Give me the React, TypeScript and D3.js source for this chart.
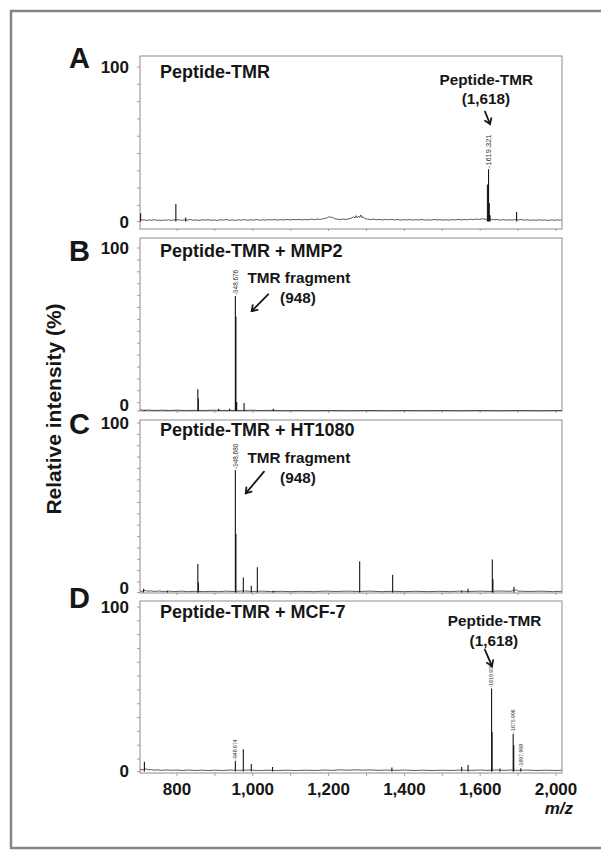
import React from 'react';
import * as d3 from 'd3';

const W = 601;
const H = 850;

// ---------- data ----------
const mzDomain: [number, number] = [702.4, 1815.8];
const xTickValues = [800, 1000, 1200, 1400, 1600, 1800];
const xTickLabels = ['800', '1,000', '1,200', '1,400', '1,600', '2,000'];
const xMinorTicks = [800, 900, 1000, 1100, 1200, 1300, 1400, 1500, 1600, 1700, 1800];

const panelLetters = ['A', 'B', 'C', 'D'];
const panelTitles = ['Peptide-TMR', 'Peptide-TMR + MMP2', 'Peptide-TMR + HT1080', 'Peptide-TMR + MCF-7'];
const yTickLabels = ['0', '100'];
const yMinorStep = [11.2, 7.3, 6.7, 8.4];

// peaks: [m/z, relative intensity %]
const peaksA: [number, number][] = [
  [704, 5.4], [797, 11.3], [823, 2.6], [1619, 24], [1622, 33.8], [1624, 12], [1626, 4], [1696, 6.1],
];
const peaksB: [number, number][] = [
  [714, 0.6], [855, 13.3], [856.5, 7.6], [910, 1.4], [939, 1.4], [954, 70.5], [955.5, 57.8],
  [957.5, 5.5], [977, 4.9], [1054, 1.4],
];
const peaksC: [number, number][] = [
  [712, 2.2], [775, 1.0], [855, 16.8], [856.5, 5.9], [954, 72.3], [955.5, 34.7], [975, 8.9],
  [996, 4.0], [1012, 14.9], [1054, 1.0], [1282, 18.4], [1369, 10.5], [1551, 1.2], [1568, 2.2],
  [1632, 19.4], [1633.5, 7.9], [1689, 3.4],
];
const peaksD: [number, number][] = [
  [714, 5.9], [954, 6.5], [975, 13.6], [996, 4.5], [1052, 2.8], [1367, 2.4], [1551, 2.8],
  [1568, 3.9], [1630, 50.5], [1631.5, 24], [1652, 1.8], [1687, 23], [1688.5, 16], [1707, 2],
];

// baseline noise: [m/z, %]
const noiseA: [number, number][] = [
  [703, 1.5], [708, 0.9], [714, 1.1], [720, 0.7], [727, 1.0], [733, 0.8], [740, 1.2], [746, 0.7],
  [752, 0.9], [759, 0.6], [765, 1.0], [772, 0.8], [778, 1.1], [785, 0.7], [792, 1.0], [802, 1.2],
  [810, 0.8], [817, 1.0], [828, 0.9], [835, 1.3], [842, 0.8], [850, 1.0], [858, 0.7], [866, 1.1],
  [874, 0.9], [882, 1.2], [890, 0.8], [898, 1.0], [906, 0.7], [914, 1.1], [922, 0.9], [930, 1.3],
  [938, 0.8], [946, 1.0], [954, 0.7], [962, 1.1], [970, 0.9], [978, 1.2], [986, 0.8], [994, 1.1],
  [1002, 0.9], [1010, 1.3], [1018, 0.8], [1026, 1.1], [1034, 0.9], [1042, 1.2], [1050, 1.0],
  [1058, 1.3], [1066, 0.9], [1074, 1.2], [1082, 1.0], [1090, 1.4], [1098, 1.0], [1106, 1.3],
  [1114, 1.1], [1122, 1.4], [1130, 1.0], [1138, 1.3], [1146, 1.1], [1154, 1.5], [1162, 1.2],
  [1170, 1.6], [1178, 1.3], [1186, 1.8], [1192, 2.0], [1198, 2.6], [1202, 3.2], [1206, 2.5],
  [1210, 2.8], [1216, 1.8], [1222, 1.5], [1230, 1.3], [1238, 1.6], [1246, 1.3], [1254, 1.8],
  [1260, 2.2], [1266, 3.0], [1269, 2.2], [1272, 3.8], [1275, 2.4], [1279, 3.5], [1282, 2.6],
  [1285, 4.2], [1288, 2.5], [1292, 3.0], [1296, 1.8], [1302, 1.6], [1310, 1.3], [1318, 1.5],
  [1326, 1.1], [1334, 1.4], [1342, 1.0], [1350, 1.3], [1358, 1.1], [1366, 1.4], [1374, 1.0],
  [1382, 1.3], [1390, 0.9], [1398, 1.2], [1406, 1.0], [1414, 1.3], [1422, 0.9], [1430, 1.2],
  [1438, 1.0], [1446, 1.3], [1454, 0.9], [1462, 1.1], [1470, 0.9], [1478, 1.3], [1486, 1.0],
  [1494, 1.2], [1502, 0.9], [1510, 1.1], [1518, 0.9], [1526, 1.2], [1534, 1.0], [1542, 1.4],
  [1550, 1.0], [1558, 1.3], [1566, 1.1], [1574, 1.5], [1582, 1.2], [1590, 1.6], [1598, 1.3],
  [1606, 1.8], [1612, 1.5], [1630, 1.4], [1636, 1.1], [1644, 1.3], [1652, 0.9], [1660, 1.2],
  [1668, 0.9], [1676, 1.1], [1684, 0.9], [1690, 1.2], [1702, 1.0], [1708, 1.3], [1716, 0.9],
  [1724, 1.1], [1732, 0.8], [1740, 1.0], [1748, 0.8], [1756, 1.1], [1764, 0.8], [1772, 1.0],
  [1780, 0.7], [1788, 1.0], [1796, 0.8], [1804, 1.1], [1812, 0.7], [1815, 1.4],
];
const noiseB: [number, number][] = [
  [703, 0.9], [710, 0.4], [725, 0.6], [740, 0.3], [760, 0.5], [780, 0.3], [800, 0.5], [820, 0.3],
  [845, 0.4], [870, 0.3], [895, 0.5], [920, 0.3], [945, 0.4], [970, 0.3], [995, 0.5], [1020, 0.3],
  [1050, 0.4], [1080, 0.2], [1120, 0.3], [1160, 0.2], [1200, 0.3], [1250, 0.2], [1300, 0.3],
  [1350, 0.2], [1400, 0.3], [1450, 0.2], [1500, 0.3], [1550, 0.2], [1600, 0.3], [1650, 0.2],
  [1700, 0.3], [1750, 0.2], [1815, 0.3],
];
const noiseC: [number, number][] = [
  [703, 1.0], [708, 0.6], [716, 1.3], [722, 0.7], [730, 1.0], [740, 0.6], [752, 0.9], [764, 0.6],
  [780, 0.8], [795, 0.5], [812, 0.8], [830, 0.5], [848, 0.7], [870, 0.5], [890, 0.7], [910, 0.5],
  [930, 0.8], [950, 0.6], [975, 0.9], [1000, 0.6], [1025, 0.8], [1050, 0.5], [1075, 0.7],
  [1100, 0.5], [1130, 0.7], [1160, 0.5], [1190, 0.8], [1220, 0.6], [1250, 0.8], [1280, 0.6],
  [1310, 0.8], [1340, 0.5], [1370, 0.7], [1400, 0.5], [1430, 0.7], [1460, 0.5], [1490, 0.7],
  [1520, 0.5], [1545, 0.8], [1575, 0.6], [1600, 0.8], [1625, 0.6], [1650, 0.9], [1680, 0.7],
  [1694, 1.6], [1700, 0.8], [1730, 0.6], [1760, 0.8], [1790, 0.5], [1815, 0.7],
];
const noiseD: [number, number][] = [
  [703, 1.4], [708, 0.9], [718, 1.6], [724, 1.0], [732, 1.2], [740, 0.8], [750, 1.0], [760, 0.7],
  [772, 1.0], [785, 0.7], [800, 0.9], [815, 0.6], [830, 0.9], [848, 0.6], [865, 0.8], [882, 0.6],
  [900, 0.8], [920, 0.6], [940, 0.9], [965, 0.7], [990, 0.9], [1015, 0.6], [1040, 0.8],
  [1065, 0.6], [1090, 0.8], [1115, 0.6], [1140, 0.8], [1165, 0.6], [1190, 0.9], [1210, 0.7],
  [1230, 1.0], [1250, 0.8], [1270, 1.0], [1290, 0.8], [1310, 1.0], [1330, 0.7], [1350, 0.9],
  [1375, 0.7], [1400, 0.9], [1425, 0.6], [1450, 0.8], [1475, 0.6], [1500, 0.8], [1525, 0.6],
  [1545, 0.9], [1575, 0.7], [1600, 0.9], [1615, 0.7], [1645, 0.9], [1665, 0.7], [1680, 0.9],
  [1700, 0.7], [1725, 0.9], [1750, 0.6], [1775, 0.8], [1800, 0.6], [1815, 0.8],
];

// labelled peaks: [panel, m/z, %, text]
const peakLabels: [number, number, number, string][] = [
  [0, 1622, 33.8, '-1619.321'],
  [1, 954, 70.5, '-948.676'],
  [2, 954, 72.3, '-948.680'],
  [3, 954, 6.5, '-948.674'],
  [3, 1630, 50.5, '-1619.936'],
  [3, 1687, 23, '-1675.996'],
  [3, 1707, 2, '-1697.998'],
];

// annotations: text lines [panel, m/z, %, text, anchor]
const annoTexts: [number, number, number, string, string][] = [
  [0, 1616, 88.3, 'Peptide-TMR', 'middle'],
  [0, 1615, 76, '(1,618)', 'middle'],
  [1, 986, 78.3, 'TMR fragment', 'start'],
  [1, 1119, 66.1, '(948)', 'middle'],
  [2, 986, 76.6, 'TMR fragment', 'start'],
  [2, 1119, 64.4, '(948)', 'middle'],
  [3, 1638, 88.6, 'Peptide-TMR', 'middle'],
  [3, 1636, 76.5, '(1,618)', 'middle'],
];
// arrows: [panel, tail m/z, tail %, head m/z, head %]
const annoArrows: [number, number, number, number, number][] = [
  [0, 1612.7, 71.1, 1625.9, 63.1],
  [1, 1040.6, 71.6, 997.1, 61.3],
  [2, 1029.5, 71.3, 981.5, 58.5],
  [3, 1612.6, 73.9, 1631, 64.1],
];

const peakSets = [peaksA, peaksB, peaksC, peaksD];
const noiseSets = [noiseA, noiseB, noiseC, noiseD];

// ---------- layout ----------
const plotLeft = 140;
const plotRight = 562;
const panelLayout = [
  { top: 56, bottom: 229, y0: 221.5, y100: 67, zeroY: 222, hundredY: 67.5, letterY: 68, titleY: 78, labelFs: 7.5 },
  { top: 238, bottom: 411, y0: 411, y100: 248, zeroY: 405, hundredY: 248, letterY: 261, titleY: 257, labelFs: 6.4 },
  { top: 420, bottom: 593, y0: 592.5, y100: 423, zeroY: 588, hundredY: 423, letterY: 434, titleY: 436, labelFs: 6.4 },
  { top: 601, bottom: 773, y0: 771.5, y100: 607, zeroY: 771, hundredY: 607, letterY: 608, titleY: 618, labelFs: 5.2 },
];

const FONT = "'Liberation Sans', Arial, Helvetica, sans-serif";
const INK = '#161616';

const x = d3.scaleLinear().domain(mzDomain).range([plotLeft, plotRight]);

function Panel({ i }: { i: number }) {
  const L = panelLayout[i];
  const y = d3.scaleLinear().domain([0, 100]).range([L.y0, L.y100]);
  const line = d3
    .line<[number, number]>()
    .x((d) => x(d[0]))
    .y((d) => y(d[1]));
  const peaks = peakSets[i];
  const stickPath = peaks.map((p) => `M${x(p[0])},${y(0)}V${y(p[1])}`).join('');
  const yTicks: number[] = [];
  for (let v = 100; v > 0.5; v -= yMinorStep[i]) yTicks.push(v);
  yTicks.push(0);
  const isLast = i === 3;
  return (
    <g>
      <rect
        x={plotLeft}
        y={L.top}
        width={plotRight - plotLeft}
        height={L.bottom - L.top}
        fill="#fff"
        stroke="#8c8c8c"
        strokeWidth={1}
      />
      {yTicks.map((v, k) => (
        <line key={k} x1={plotLeft - 3} x2={plotLeft} y1={y(v)} y2={y(v)} stroke="#8c8c8c" strokeWidth={0.8} />
      ))}
      {xMinorTicks.map((v) => (
        <line
          key={v}
          x1={x(v)}
          x2={x(v)}
          y1={L.bottom}
          y2={L.bottom + (isLast ? 3 : 2)}
          stroke="#8c8c8c"
          strokeWidth={0.8}
        />
      ))}
      <path d={line(noiseSets[i]) || ''} fill="none" stroke={INK} strokeWidth={0.7} />
      <path d={stickPath} fill="none" stroke={INK} strokeWidth={1.1} />
      {/* axis labels */}
      <text x={129} y={L.zeroY} textAnchor="end" dominantBaseline="central" fontFamily={FONT} fontWeight="bold" fontSize={17} fill={INK}>
        {yTickLabels[0]}
      </text>
      <text x={129} y={L.hundredY} textAnchor="end" dominantBaseline="central" fontFamily={FONT} fontWeight="bold" fontSize={17} fill={INK}>
        {yTickLabels[1]}
      </text>
      <text x={69} y={L.letterY} fontFamily={FONT} fontWeight="bold" fontSize={29} fill={INK}>
        {panelLetters[i]}
      </text>
      <text x={160} y={L.titleY} fontFamily={FONT} fontWeight="bold" fontSize={18} fill={INK}>
        {panelTitles[i]}
      </text>
      {peakLabels
        .filter((p) => p[0] === i)
        .map((p, k) => {
          const px = x(p[1]) + L.labelFs * 0.36;
          const py = y(p[2]) - 1;
          return (
            <text
              key={k}
              x={px}
              y={py}
              transform={`rotate(-90, ${px}, ${py})`}
              fontFamily={FONT}
              fontSize={L.labelFs}
              fill="#333"
            >
              {p[3]}
            </text>
          );
        })}
      {annoTexts
        .filter((a) => a[0] === i)
        .map((a, k) => (
          <text
            key={k}
            x={x(a[1])}
            y={y(a[2])}
            textAnchor={a[4] as any}
            fontFamily={FONT}
            fontWeight="bold"
            fontSize={15.3}
            fill={INK}
          >
            {a[3]}
          </text>
        ))}
      {annoArrows
        .filter((a) => a[0] === i)
        .map((a, k) => {
          const x1 = x(a[1]);
          const y1 = y(a[2]);
          const x2 = x(a[3]);
          const y2 = y(a[4]);
          const ang = Math.atan2(y2 - y1, x2 - x1);
          const hl = 6;
          const spread = 0.6;
          const hx1 = x2 - hl * Math.cos(ang - spread);
          const hy1 = y2 - hl * Math.sin(ang - spread);
          const hx2 = x2 - hl * Math.cos(ang + spread);
          const hy2 = y2 - hl * Math.sin(ang + spread);
          return (
            <g key={k} stroke={INK} strokeWidth={1.8} fill="none" strokeLinecap="round">
              <line x1={x1} y1={y1} x2={x2} y2={y2} />
              <polyline points={`${hx1},${hy1} ${x2},${y2} ${hx2},${hy2}`} />
            </g>
          );
        })}
    </g>
  );
}

export default function App() {
  return (
    <svg
      width={W}
      height={H}
      viewBox={`0 0 ${W} ${H}`}
      style={{ position: 'absolute', left: 0, top: 0, background: '#fff' }}
    >
      <rect x={0} y={0} width={W} height={H} fill="#fff" />
      <rect x={11} y={11} width={W + 10} height={837} fill="none" stroke="#858585" strokeWidth={2.5} />
      {[0, 1, 2, 3].map((i) => (
        <Panel key={i} i={i} />
      ))}
      {xTickValues.map((v, k) => (
        <text
          key={v}
          x={x(v)}
          y={795}
          textAnchor="middle"
          fontFamily={FONT}
          fontWeight="bold"
          fontSize={17}
          fill={INK}
        >
          {xTickLabels[k]}
        </text>
      ))}
      <text x={573} y={814} textAnchor="end" fontFamily={FONT} fontWeight="bold" fontStyle="italic" fontSize={17} fill={INK}>
        m/z
      </text>
      <text
        x={61}
        y={409}
        transform="rotate(-90, 61, 409)"
        textAnchor="middle"
        fontFamily={FONT}
        fontWeight="bold"
        fontSize={21}
        fill={INK}
      >
        Relative intensity (%)
      </text>
    </svg>
  );
}
